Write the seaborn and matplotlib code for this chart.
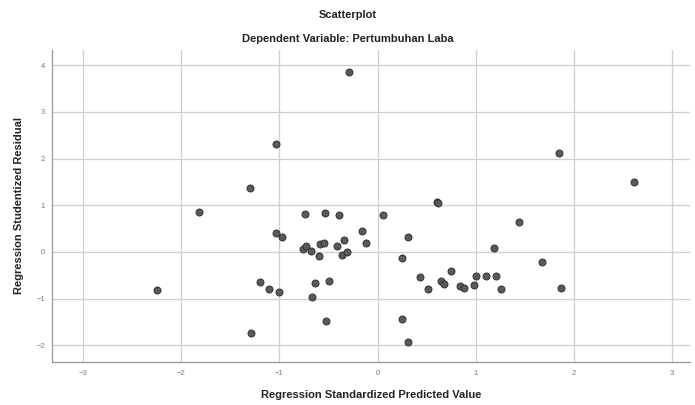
import matplotlib
matplotlib.use("Agg")
import matplotlib.pyplot as plt
import seaborn as sns
import pandas as pd

predicted = [
    -0.29, -1.04, -1.30, 1.85, 2.62, 0.61, 0.62,
    -1.82, -0.74, -0.54, -0.39, -1.04, -0.97, -0.16, -0.12,
    -0.76, -0.73, -0.68, -0.60, -0.59, -0.55, -0.41, -0.34, -0.36, -0.31,
    -2.25, -1.20, -1.11, -1.00, -0.64, -0.49, -0.67, -0.53, -1.29,
    0.06, 0.31, 1.44, 1.19, 0.25, 1.68, 0.75, 0.43, 0.65, 0.68, 0.52,
    0.84, 0.88, 0.98, 1.00, 1.11, 1.21, 1.26, 1.87, 0.25, 0.31,
]
residual = [
    3.85, 2.31, 1.37, 2.12, 1.50, 1.08, 1.04,
    0.86, 0.81, 0.84, 0.79, 0.40, 0.32, 0.45, 0.20,
    0.06, 0.13, 0.02, -0.09, 0.16, 0.20, 0.13, 0.26, -0.06, 0.00,
    -0.81, -0.64, -0.79, -0.86, -0.66, -0.62, -0.97, -1.48, -1.73,
    0.79, 0.32, 0.64, 0.08, -0.13, -0.21, -0.41, -0.54, -0.62, -0.69, -0.80,
    -0.73, -0.77, -0.71, -0.51, -0.51, -0.51, -0.80, -0.77, -1.44, -1.93,
]
x_ticks = [-3, -2, -1, 0, 1, 2, 3]
y_ticks = [-2, -1, 0, 1, 2, 3, 4]

df = pd.DataFrame({"pred": predicted, "resid": residual})

sns.set_style("white")
plt.rcParams['font.family'] = ['Liberation Sans', 'DejaVu Sans']

fig = plt.figure(figsize=(6.95, 4.05), dpi=100)
ax = fig.add_axes([0.075, 0.106, 0.918, 0.771])

ax.grid(True, color='#cfcfcf', linewidth=0.9)
ax.set_axisbelow(True)

sns.scatterplot(data=df, x="pred", y="resid", ax=ax, s=26,
                color='#5a5a5a', edgecolor='#2a2a2a', linewidth=0.6, zorder=3)

ax.set_xlim(-3.32, 3.19)
ax.set_ylim(-2.36, 4.33)
ax.set_xticks(x_ticks)
ax.set_yticks(y_ticks)
ax.tick_params(axis='x', labelsize=5.5, colors='#777777', length=0, pad=6)
ax.tick_params(axis='y', labelsize=5.5, colors='#777777', length=0, pad=5)

for side in ['top', 'right']:
    ax.spines[side].set_visible(False)
for side in ['left', 'bottom']:
    ax.spines[side].set_color('#999999')
    ax.spines[side].set_linewidth(0.9)

ax.set_xlabel('Regression Standardized Predicted Value', fontsize=8,
              fontweight='bold', color='#222222', labelpad=9)
ax.set_ylabel('Regression Studentized Residual', fontsize=8,
              fontweight='bold', color='#222222', labelpad=9)

fig.text(0.5, 0.963, 'Scatterplot', ha='center', va='center',
         fontsize=8, fontweight='bold', color='#222222')
fig.text(0.5, 0.903, 'Dependent Variable: Pertumbuhan Laba', ha='center',
         va='center', fontsize=8, fontweight='bold', color='#222222')

plt.savefig('out.png', dpi=100)
